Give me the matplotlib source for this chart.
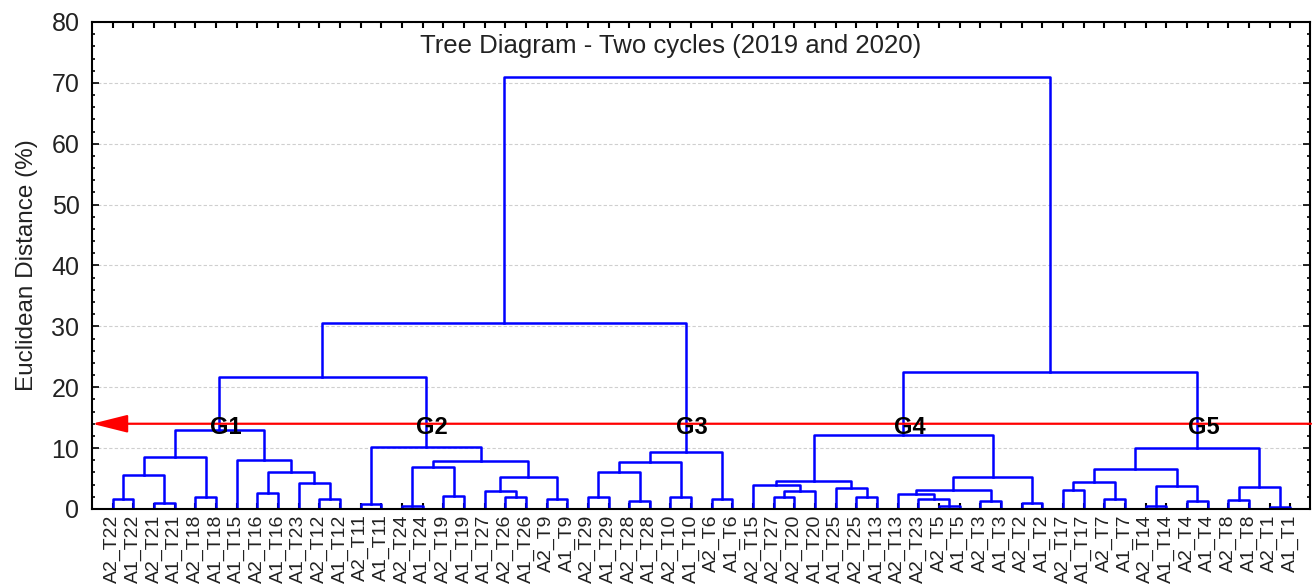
import matplotlib
matplotlib.use("Agg")
import matplotlib.pyplot as plt
from matplotlib.ticker import MultipleLocator

plt.rcParams['font.family'] = ['Liberation Sans', 'DejaVu Sans']

# leaf order, left to right
leaves = ["A2_T22", "A1_T22", "A2_T21", "A1_T21", "A2_T18", "A1_T18", "A1_T15",
          "A2_T16", "A1_T16", "A1_T23", "A2_T12", "A1_T12", "A2_T11", "A1_T11",
          "A2_T24", "A1_T24", "A2_T19", "A1_T19", "A1_T27", "A2_T26", "A1_T26",
          "A2_T9", "A1_T9", "A2_T29", "A1_T29", "A2_T28", "A1_T28", "A2_T10",
          "A1_T10", "A2_T6", "A1_T6", "A2_T15", "A2_T27", "A2_T20", "A1_T20",
          "A1_T25", "A2_T25", "A1_T13", "A2_T13", "A2_T23", "A2_T5", "A1_T5",
          "A2_T3", "A1_T3", "A2_T2", "A1_T2", "A2_T17", "A1_T17", "A2_T7",
          "A1_T7", "A2_T14", "A1_T14", "A2_T4", "A1_T4", "A2_T8", "A1_T8",
          "A2_T1", "A1_T1"]

# merges: (new node, left child, right child, distance)
merges_g1 = [
    ("a1", "A2_T22", "A1_T22", 1.6),
    ("a2", "A2_T21", "A1_T21", 0.95),
    ("a3", "a1", "a2", 5.5),
    ("a4", "A2_T18", "A1_T18", 1.9),
    ("a5", "a3", "a4", 8.6),
    ("a6", "A2_T16", "A1_T16", 2.7),
    ("a7", "A2_T12", "A1_T12", 1.65),
    ("a8", "A1_T23", "a7", 4.3),
    ("a9", "a6", "a8", 6.0),
    ("a10", "A1_T15", "a9", 8.0),
    ("G1", "a5", "a10", 13.0),
]
merges_g2 = [
    ("b1", "A2_T11", "A1_T11", 0.75),
    ("b2", "A2_T24", "A1_T24", 0.55),
    ("b3", "A2_T19", "A1_T19", 2.1),
    ("b4", "b2", "b3", 6.95),
    ("b5", "A2_T26", "A1_T26", 2.0),
    ("b6", "A1_T27", "b5", 3.0),
    ("b7", "A2_T9", "A1_T9", 1.65),
    ("b8", "b6", "b7", 5.3),
    ("b9", "b4", "b8", 7.9),
    ("G2", "b1", "b9", 10.1),
]
merges_g3 = [
    ("c1", "A2_T29", "A1_T29", 1.9),
    ("c2", "A2_T28", "A1_T28", 1.3),
    ("c3", "c1", "c2", 6.0),
    ("c4", "A2_T10", "A1_T10", 2.0),
    ("c5", "c3", "c4", 7.7),
    ("c6", "A2_T6", "A1_T6", 1.65),
    ("G3", "c5", "c6", 9.4),
]
merges_g4 = [
    ("d1", "A2_T27", "A2_T20", 2.0),
    ("d2", "d1", "A1_T20", 3.0),
    ("d3", "A2_T15", "d2", 3.95),
    ("d4", "A2_T25", "A1_T13", 2.0),
    ("d5", "A1_T25", "d4", 3.4),
    ("d6", "d3", "d5", 4.6),
    ("d7", "A2_T5", "A1_T5", 0.5),
    ("d8", "A2_T23", "d7", 1.6),
    ("d9", "A2_T13", "d8", 2.45),
    ("d10", "A2_T3", "A1_T3", 1.3),
    ("d11", "d9", "d10", 3.1),
    ("d12", "A2_T2", "A1_T2", 1.0),
    ("d13", "d11", "d12", 5.2),
    ("G4", "d6", "d13", 12.1),
]
merges_g5 = [
    ("e1", "A2_T17", "A1_T17", 3.1),
    ("e2", "A2_T7", "A1_T7", 1.65),
    ("e3", "e1", "e2", 4.5),
    ("e4", "A2_T14", "A1_T14", 0.55),
    ("e5", "A2_T4", "A1_T4", 1.3),
    ("e6", "e4", "e5", 3.8),
    ("e7", "e3", "e6", 6.5),
    ("e8", "A2_T8", "A1_T8", 1.4),
    ("e9", "A2_T1", "A1_T1", 0.3),
    ("e10", "e8", "e9", 3.55),
    ("G5", "e7", "e10", 10.0),
]
merges_top = [
    ("G12", "G1", "G2", 21.7),
    ("G123", "G12", "G3", 30.5),
    ("G45", "G4", "G5", 22.5),
    ("root", "G123", "G45", 71.0),
]
merges = merges_g1 + merges_g2 + merges_g3 + merges_g4 + merges_g5 + merges_top

groups = ["G1", "G2", "G3", "G4", "G5"]
cut_height = 14

fig, ax = plt.subplots(figsize=(13.16, 5.88), dpi=100)
fig.subplots_adjust(left=0.0699, right=0.9954, bottom=0.1344, top=0.9626)

pos = {name: i + 1 for i, name in enumerate(leaves)}
height = {name: 0.0 for name in leaves}
for node, left, right, h in merges:
    xl, xr = pos[left], pos[right]
    ax.plot([xl, xl, xr, xr], [height[left], h, h, height[right]],
            color='blue', lw=1.8, zorder=2)
    pos[node] = (xl + xr) / 2
    height[node] = h

# cut line with arrow
ax.annotate('', xy=(0, cut_height), xytext=(len(leaves) + 1, cut_height),
            arrowprops=dict(arrowstyle='-|>,head_length=2.2,head_width=0.55',
                            color='red', lw=1.6, shrinkA=0, shrinkB=0),
            zorder=3)

for g in groups:
    ax.text(pos[g] + 0.3, 13.4, g, ha='center', va='center',
            fontsize=17, fontweight='bold', zorder=4)

ax.text(28.0, 76.0, "Tree Diagram - Two cycles (2019 and 2020)",
        ha='center', va='center', fontsize=18.5, color='#222222')

ax.set_xlim(0, len(leaves) + 0.95)
ax.set_ylim(0, 80)
ax.set_xticks(range(1, len(leaves) + 1))
ax.set_xticklabels(leaves, rotation=90, fontsize=14, color='#222222')
ax.yaxis.set_major_locator(MultipleLocator(10))
ax.yaxis.set_minor_locator(MultipleLocator(2))
ax.tick_params(axis='y', which='major', labelsize=18, direction='in',
               length=5, width=1.2, left=True, right=True, pad=9,
               labelcolor='#222222')
ax.tick_params(axis='y', which='minor', direction='in', length=2.5,
               width=1.2, left=True, right=True)
ax.tick_params(axis='x', direction='in', length=4, width=1.5,
               top=True, bottom=True, pad=4)
ax.set_ylabel("Euclidean Distance (%)", fontsize=17.5, labelpad=10,
              color='#222222')

ax.yaxis.grid(True, linestyle=(0, (3, 2)), color='#cfcfcf', lw=0.8)
ax.set_axisbelow(True)
for s in ax.spines.values():
    s.set_linewidth(1.5)

plt.savefig("out.png", dpi=100)
